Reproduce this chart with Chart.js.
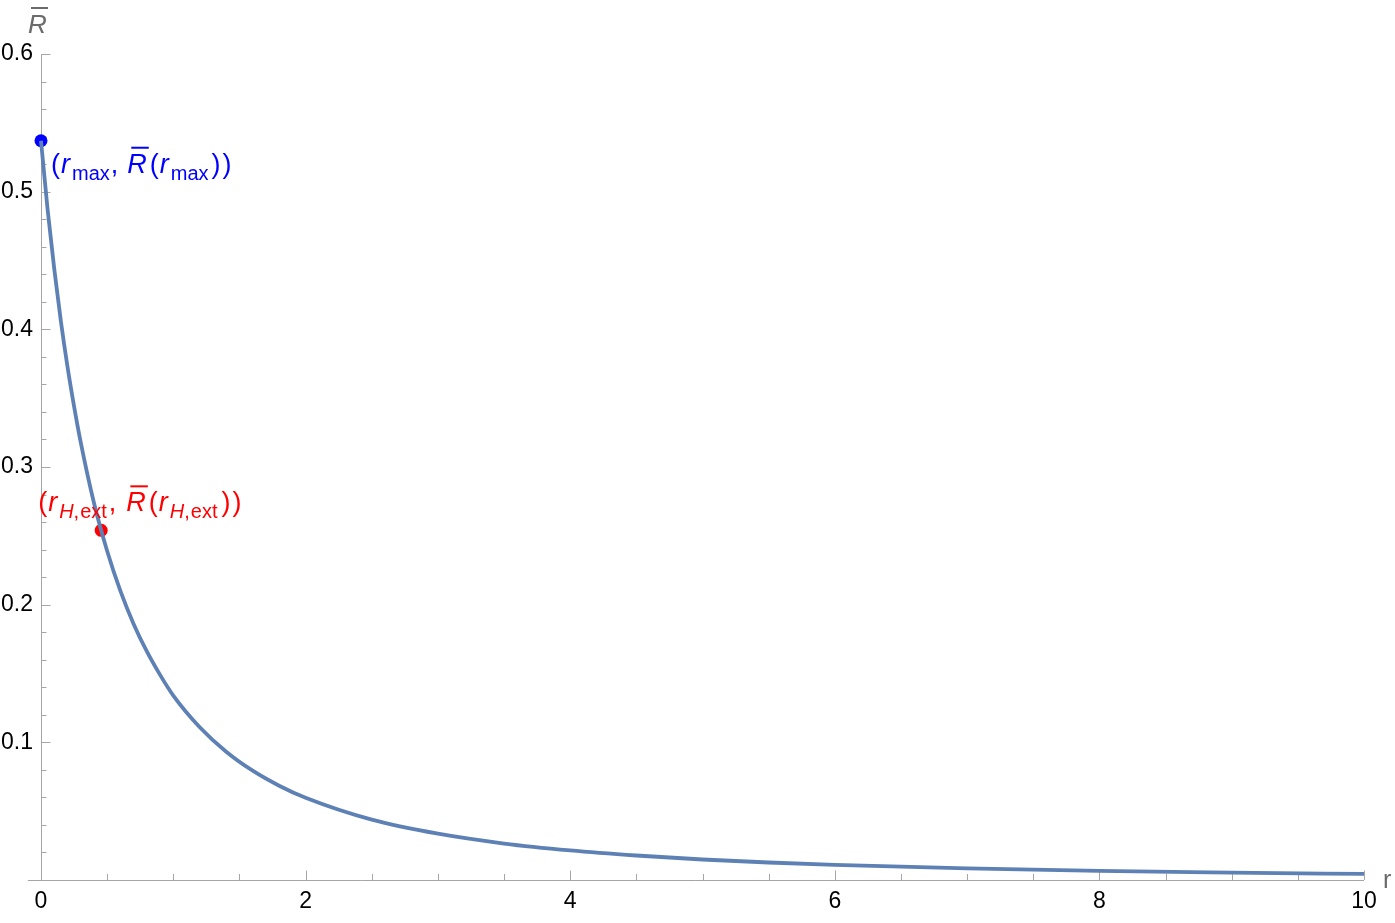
<!DOCTYPE html>
<html>
<head>
<meta charset="utf-8">
<script src="https://cdn.jsdelivr.net/npm/chart.js@4.4.1/dist/chart.umd.min.js"></script>
<style>
  html, body { margin: 0; padding: 0; background: #fff; }
  #wrap { width: 1395px; height: 923px; position: relative; }
</style>
</head>
<body>
<div id="wrap"><canvas id="chart"></canvas></div>
<script>
// curve R-bar(r)
const rValues = [0, 0.05, 0.1, 0.15, 0.2, 0.25, 0.3, 0.4, 0.5, 0.6, 0.7, 0.8, 0.9, 1.0, 1.2, 1.4, 1.6, 1.8, 2.0, 2.5, 3.0, 3.5, 4.0, 4.5, 5.0, 5.5, 6.0, 7.0, 8.0, 9.0, 10.0];
const rbarValues = [0.537, 0.487, 0.444, 0.406, 0.373, 0.344, 0.318, 0.274, 0.239, 0.210, 0.186, 0.166, 0.149, 0.134, 0.111, 0.0932, 0.0794, 0.0685, 0.0597, 0.0438, 0.0336, 0.0265, 0.0215, 0.0178, 0.0149, 0.0127, 0.0110, 0.0084, 0.0066, 0.0054, 0.0044];

// marked points
const rMaxPoint = [0, 0.537];
const rHextPoint = [0.455, 0.254];

// ticks
const xTicks = [0, 2, 4, 6, 8, 10];
const xMinorTicks = [0.5, 1, 1.5, 2.5, 3, 3.5, 4.5, 5, 5.5, 6.5, 7, 7.5, 8.5, 9, 9.5];
const yTicks = [0.1, 0.2, 0.3, 0.4, 0.5, 0.6];
const yMinorTicks = [0.02, 0.04, 0.06, 0.08, 0.12, 0.14, 0.16, 0.18, 0.22, 0.24, 0.26, 0.28,
                     0.32, 0.34, 0.36, 0.38, 0.42, 0.44, 0.46, 0.48, 0.52, 0.54, 0.56, 0.58];

const FONT = '"Liberation Sans", Arial, sans-serif';
const AXIS_COLOR = '#a6a6a6';
const TITLE_COLOR = '#6b6b6b';

// pieces of the two point labels: text, italic, subscript, extra gap before it
const rMaxLabel = [
  { t: '(' }, { t: 'r', it: true, g: 1 }, { t: 'max', sub: true, g: 2 },
  { t: ',', g: 1 }, { t: 'R', it: true, bar: true, g: 9 }, { t: '(', g: 3 },
  { t: 'r', it: true, g: 1 }, { t: 'max', sub: true, g: 2 }, { t: ')', g: 3 }, { t: ')', g: 2 }
];
const rHextLabel = [
  { t: '(' }, { t: 'r', it: true, g: 1 }, { t: 'H', it: true, sub: true, g: 2 },
  { t: ',', sub: true }, { t: 'ext', sub: true, g: 1 },
  { t: ',', g: 2 }, { t: 'R', it: true, bar: true, g: 10 }, { t: '(', g: 3 },
  { t: 'r', it: true, g: 1 }, { t: 'H', it: true, sub: true, g: 2 },
  { t: ',', sub: true }, { t: 'ext', sub: true, g: 1 },
  { t: ')', g: 4 }, { t: ')', g: 2 }
];

function drawRich(ctx, parts, x0, base, color) {
  ctx.save();
  ctx.fillStyle = color;
  ctx.strokeStyle = color;
  ctx.textBaseline = 'alphabetic';
  ctx.textAlign = 'left';
  let cx = x0;
  parts.forEach(p => {
    const size = p.sub ? 20 : 27;
    ctx.font = (p.it ? 'italic ' : '') + size + 'px ' + FONT;
    const y = p.sub ? base + 7 : base;
    cx += p.g || 0;
    ctx.fillText(p.t, cx, y);
    const w = ctx.measureText(p.t).width;
    if (p.bar) {
      ctx.lineWidth = 2;
      ctx.beginPath();
      ctx.moveTo(cx + 4, y - 25);
      ctx.lineTo(cx + w + 2, y - 25);
      ctx.stroke();
    }
    cx += w;
  });
  ctx.restore();
}

const mmaAxes = {
  id: 'mmaAxes',
  beforeDatasetsDraw(chart) {
    const { ctx, scales: { x, y } } = chart;
    const x0 = x.getPixelForValue(0);
    const y0 = y.getPixelForValue(0);
    ctx.save();
    ctx.strokeStyle = AXIS_COLOR;
    ctx.lineWidth = 1;
    ctx.beginPath();
    ctx.moveTo(x.getPixelForValue(-0.1), y0 + 0.5);
    ctx.lineTo(x.getPixelForValue(10), y0 + 0.5);
    ctx.moveTo(x0 + 0.5, y0);
    ctx.lineTo(x0 + 0.5, y.getPixelForValue(0.6));
    const tick = (v, len, horiz) => {
      if (horiz) {
        const px = Math.round(x.getPixelForValue(v)) + 0.5;
        ctx.moveTo(px, y0);
        ctx.lineTo(px, y0 - len);
      } else {
        const py = Math.round(y.getPixelForValue(v)) + 0.5;
        ctx.moveTo(x0, py);
        ctx.lineTo(x0 + len, py);
      }
    };
    xTicks.forEach(v => tick(v, 9.5, true));
    xMinorTicks.forEach(v => tick(v, 6, true));
    yTicks.forEach(v => tick(v, 9.5, false));
    yMinorTicks.forEach(v => tick(v, 5.5, false));
    ctx.stroke();
    ctx.restore();
  },
  afterDatasetsDraw(chart) {
    const { ctx, scales: { x, y } } = chart;
    ctx.save();
    ctx.fillStyle = TITLE_COLOR;
    ctx.strokeStyle = TITLE_COLOR;
    // axis titles
    ctx.font = 'italic 26px ' + FONT;
    ctx.textBaseline = 'alphabetic';
    ctx.fillText('R', 28, 33);
    ctx.lineWidth = 2;
    ctx.beginPath();
    ctx.moveTo(31, 8);
    ctx.lineTo(48, 8);
    ctx.stroke();
    ctx.font = '25px ' + FONT;
    ctx.fillText('r', x.getPixelForValue(10) + 19, y.getPixelForValue(0) + 8);
    ctx.restore();

    const bx = x.getPixelForValue(rMaxPoint[0]);
    const by = y.getPixelForValue(rMaxPoint[1]);
    drawRich(ctx, rMaxLabel, bx + 10, by + 32, '#0000ff');
    const hx = x.getPixelForValue(rHextPoint[0]);
    const hy = y.getPixelForValue(rHextPoint[1]);
    drawRich(ctx, rHextLabel, hx - 63, hy - 19, '#ff0000');
  }
};

new Chart(document.getElementById('chart'), {
  type: 'scatter',
  data: {
    datasets: [
      {
        data: rValues.map((r, i) => ({ x: r, y: rbarValues[i] })),
        showLine: true,
        borderColor: 'rgb(94,129,181)',
        borderWidth: 3.8,
        pointRadius: 0,
        cubicInterpolationMode: 'monotone',
        clip: false
      },
      {
        data: [{ x: rMaxPoint[0], y: rMaxPoint[1] }],
        pointRadius: 6.5,
        pointBackgroundColor: '#0000ff',
        pointBorderWidth: 0,
        clip: false
      },
      {
        data: [{ x: rHextPoint[0], y: rHextPoint[1] }],
        pointRadius: 6.5,
        pointBackgroundColor: '#ff0000',
        pointBorderWidth: 0,
        clip: false
      }
    ]
  },
  options: {
    responsive: true,
    maintainAspectRatio: false,
    animation: false,
    layout: { padding: { top: 54, right: 31, left: 0, bottom: 0 } },
    plugins: { legend: { display: false }, tooltip: { enabled: false } },
    scales: {
      x: {
        type: 'linear',
        min: 0,
        max: 10,
        grid: { display: false, drawTicks: false },
        border: { display: false },
        afterBuildTicks: s => { s.ticks = xTicks.map(v => ({ value: v })); },
        afterFit: s => { s.height = 43; },
        ticks: {
          padding: 8,
          color: '#000',
          font: { family: FONT, size: 23 },
          maxRotation: 0,
          callback: v => String(v)
        }
      },
      y: {
        type: 'linear',
        min: 0,
        max: 0.6,
        grid: { display: false, drawTicks: false },
        border: { display: false },
        afterBuildTicks: s => { s.ticks = yTicks.map(v => ({ value: v })); },
        afterFit: s => { s.width = 41; },
        ticks: {
          padding: 8,
          color: '#000',
          font: { family: FONT, size: 23 },
          callback: v => v.toFixed(1)
        }
      }
    }
  },
  plugins: [mmaAxes]
});
</script>
</body>
</html>
